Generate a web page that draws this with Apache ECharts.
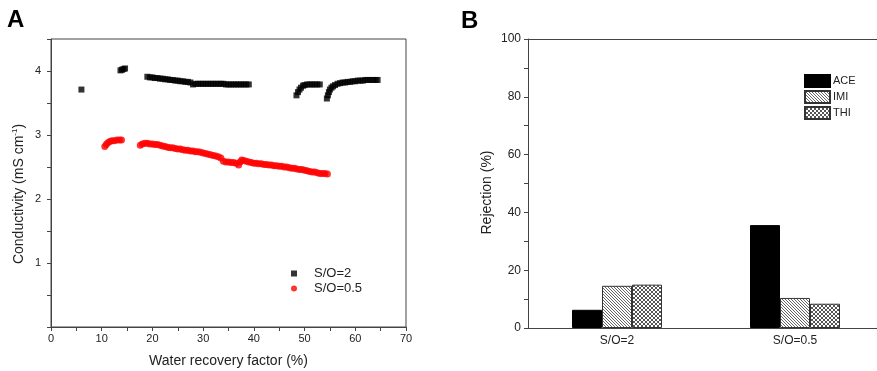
<!DOCTYPE html>
<html>
<head>
<meta charset="utf-8">
<script src="https://cdn.jsdelivr.net/npm/echarts@6/dist/echarts.min.js"></script>
<style>
  html, body { margin: 0; padding: 0; background: #fff; }
  #chart { width: 877px; height: 371px; }
</style>
</head>
<body>
<div id="chart"></div>
<script>
// Panel A: conductivity vs water recovery factor, [x %, mS/cm]
const soTwoPoints = [
  [6.0, 3.71],
  [13.7, 4.01], [14.0, 4.02], [14.3, 4.03], [14.6, 4.04],
  [19.0, 3.91], [19.5, 3.90], [20.0, 3.90], [20.5, 3.89], [21.0, 3.89], [21.5, 3.88],
  [22.0, 3.88], [22.5, 3.87], [23.0, 3.87], [23.5, 3.86], [24.0, 3.86], [24.5, 3.85],
  [25.0, 3.85], [25.5, 3.84], [26.0, 3.84], [26.5, 3.83], [27.0, 3.83], [27.5, 3.82],
  [28.0, 3.79], [28.5, 3.80], [29.0, 3.80], [29.5, 3.80], [30.0, 3.80], [30.5, 3.80],
  [31.0, 3.80], [31.5, 3.80], [32.0, 3.80], [32.5, 3.80], [33.0, 3.80], [33.5, 3.80],
  [34.0, 3.80], [34.5, 3.79], [35.0, 3.79], [35.5, 3.79], [36.0, 3.79], [36.5, 3.79],
  [37.0, 3.79], [37.5, 3.79], [38.0, 3.79], [38.5, 3.79], [39.0, 3.79],
  [48.4, 3.62], [48.7, 3.67], [49.0, 3.71], [49.3, 3.74], [49.7, 3.77], [50.0, 3.78],
  [50.5, 3.79], [51.0, 3.79], [51.5, 3.79], [52.0, 3.79], [52.5, 3.79], [53.0, 3.79],
  [54.4, 3.57], [54.6, 3.62], [54.8, 3.67], [55.0, 3.71], [55.3, 3.74], [55.6, 3.76],
  [56.0, 3.78], [56.5, 3.80], [57.0, 3.81], [57.5, 3.82], [58.0, 3.82], [58.5, 3.83],
  [59.0, 3.83], [59.5, 3.84], [60.0, 3.84], [60.5, 3.85], [61.0, 3.85], [61.5, 3.85],
  [62.0, 3.86], [62.5, 3.86], [63.0, 3.86], [63.5, 3.86], [64.0, 3.86], [64.4, 3.86]
];
const soHalfPoints = [
  [10.6, 2.82], [10.9, 2.85], [11.2, 2.88], [11.6, 2.90], [12.0, 2.91], [12.5, 2.91],
  [13.0, 2.92], [13.5, 2.92], [13.9, 2.92],
  [17.6, 2.84], [18.0, 2.86], [18.5, 2.87], [19.0, 2.87], [19.5, 2.86], [20.0, 2.86],
  [20.5, 2.85], [21.0, 2.85], [21.5, 2.84], [22.0, 2.83], [22.5, 2.82], [23.0, 2.81],
  [23.5, 2.80], [24.0, 2.80], [24.5, 2.79], [25.0, 2.78], [25.5, 2.78], [26.0, 2.77],
  [26.5, 2.76], [27.0, 2.76], [27.5, 2.75], [28.0, 2.75], [28.5, 2.74], [29.0, 2.74],
  [29.5, 2.73], [30.0, 2.72], [30.5, 2.71], [31.0, 2.70], [31.5, 2.69], [32.0, 2.68],
  [32.5, 2.67], [33.0, 2.66], [33.5, 2.64], [34.0, 2.59], [34.5, 2.58], [35.0, 2.58],
  [35.5, 2.57], [36.0, 2.57], [36.5, 2.56], [37.0, 2.53], [37.3, 2.58], [37.6, 2.61],
  [38.0, 2.60], [38.5, 2.59], [39.0, 2.58], [39.5, 2.57], [40.0, 2.56], [40.5, 2.56],
  [41.0, 2.55], [41.5, 2.55], [42.0, 2.54], [42.5, 2.54], [43.0, 2.53], [43.5, 2.53],
  [44.0, 2.52], [44.5, 2.52], [45.0, 2.51], [45.5, 2.51], [46.0, 2.50], [46.5, 2.50],
  [47.0, 2.49], [47.5, 2.48], [48.0, 2.48], [48.5, 2.47], [49.0, 2.46], [49.5, 2.46],
  [50.0, 2.45], [50.5, 2.44], [51.0, 2.43], [51.5, 2.42], [52.0, 2.42], [52.5, 2.41],
  [53.0, 2.40], [53.5, 2.40], [54.0, 2.40], [54.5, 2.39]
];

// Panel B: rejection (%)
const ratioCategories = ["S/O=2", "S/O=0.5"];
const aceValues = [6.3, 35.6];
const imiValues = [14.6, 10.4];
const thiValues = [15.0, 8.4];

// 填充图案
function makePattern(draw, size, ink) {
  const c = document.createElement("canvas");
  c.width = size;
  c.height = size;
  const ctx = c.getContext("2d");
  ctx.fillStyle = "#fff";
  ctx.fillRect(0, 0, size, size);
  ctx.fillStyle = ink;
  draw(ctx, size);
  return { image: c, repeat: "repeat" };
}
const hatchPattern = makePattern((ctx, n) => {
  for (let i = 0; i < n; i++) ctx.fillRect(i, i, 1, 1);
}, 3, "#666");
const crossPattern = makePattern((ctx, n) => {
  for (let i = 0; i < n; i++) {
    ctx.fillRect(i, i, 1, 1);
    ctx.fillRect(i, n - 1 - i, 1, 1);
  }
}, 4, "#555");

const axisColor = "#444";
const textColor = "#222";
const fontFamily = "Liberation Sans, Arial, sans-serif";

const chart = echarts.init(document.getElementById("chart"));

const option = {
  animation: false,
  textStyle: { fontFamily: fontFamily, color: textColor },
  graphic: [
    { type: "text", left: 7, top: 8, style: { text: "A", font: "bold 24px " + fontFamily, fill: "#000" } },
    { type: "text", left: 461, top: 9, style: { text: "B", font: "bold 24px " + fontFamily, fill: "#000" } }
  ],
  legend: [
    {
      orient: "vertical",
      left: 286,
      top: 262,
      itemWidth: 6,
      itemHeight: 6,
      itemGap: 2,
      data: [
        { name: "S/O=2", icon: "rect" },
        { name: "S/O=0.5", icon: "circle" }
      ],
      textStyle: { fontSize: 13, color: textColor, padding: [0, 0, 0, 12] }
    },
    {
      orient: "vertical",
      left: 799,
      top: 69,
      itemWidth: 25,
      itemHeight: 12,
      itemGap: 2,
      icon: "rect",
      data: ["ACE", "IMI", "THI"],
      textStyle: { fontSize: 11, color: textColor, padding: [0, 0, 0, -2] }
    }
  ],
  grid: [
    { left: 51, top: 39, width: 355, height: 288, show: true, borderColor: axisColor, borderWidth: 1, outerBoundsMode: "none" },
    { left: 528, top: 39, width: 356, height: 289, show: false, outerBoundsMode: "none" }
  ],
  xAxis: [
    {
      gridIndex: 0,
      type: "value",
      min: 0,
      max: 70,
      interval: 5,
      name: "Water recovery factor (%)",
      nameLocation: "middle",
      nameGap: 27,
      nameTextStyle: { fontSize: 14, color: textColor },
      axisLine: { lineStyle: { color: axisColor } },
      axisTick: { inside: false, length: 4, lineStyle: { color: axisColor } },
      axisLabel: {
        fontSize: 11,
        color: textColor,
        margin: 6,
        formatter: (v) => (v % 10 === 0 ? v : "")
      },
      splitLine: { show: false }
    },
    {
      gridIndex: 1,
      type: "category",
      data: ratioCategories,
      axisLine: { lineStyle: { color: axisColor } },
      axisTick: { show: false },
      axisLabel: { fontSize: 12, color: textColor, margin: 7 },
      splitLine: { show: false }
    },
    {
      // 顶部边框线
      gridIndex: 1,
      type: "category",
      position: "top",
      data: ratioCategories,
      axisLine: { show: true, lineStyle: { color: axisColor } },
      axisTick: { show: false },
      axisLabel: { show: false },
      splitLine: { show: false }
    }
  ],
  yAxis: [
    {
      gridIndex: 0,
      type: "value",
      min: 0,
      max: 4.5,
      interval: 0.5,
      name: "Conductivity (mS cm{sup|-1})",
      nameLocation: "middle",
      nameGap: 24,
      nameTextStyle: {
        fontSize: 14,
        color: textColor,
        padding: [0, 22, 0, 0],
        rich: { sup: { fontSize: 8, verticalAlign: "top", padding: [0, 0, 8, 0] } }
      },
      axisLine: { show: true, lineStyle: { color: axisColor } },
      axisTick: { show: true, inside: false, length: 4, lineStyle: { color: axisColor } },
      axisLabel: {
        fontSize: 11,
        color: textColor,
        margin: 10,
        formatter: (v) => (v > 0 && Number.isInteger(v) ? v : "")
      },
      splitLine: { show: false }
    },
    {
      gridIndex: 1,
      type: "value",
      min: 0,
      max: 100,
      interval: 10,
      name: "Rejection (%)",
      nameLocation: "middle",
      nameGap: 34,
      nameTextStyle: { fontSize: 14, color: textColor, padding: [0, 18, 0, 0] },
      axisLine: { show: true, lineStyle: { color: axisColor } },
      axisTick: { show: true, inside: false, length: 4, lineStyle: { color: axisColor } },
      axisLabel: {
        fontSize: 12,
        color: textColor,
        margin: 7,
        formatter: (v) => (v % 20 === 0 ? v : "")
      },
      splitLine: { show: false }
    }
  ],
  series: [
    {
      name: "S/O=2",
      type: "scatter",
      xAxisIndex: 0,
      yAxisIndex: 0,
      symbol: "rect",
      symbolSize: 6,
      itemStyle: { color: "#000" },
      data: soTwoPoints
    },
    {
      name: "S/O=0.5",
      type: "scatter",
      xAxisIndex: 0,
      yAxisIndex: 0,
      symbol: "circle",
      symbolSize: 7,
      itemStyle: { color: "#ff0000" },
      data: soHalfPoints
    },
    {
      name: "ACE",
      type: "bar",
      xAxisIndex: 1,
      yAxisIndex: 1,
      barWidth: 30,
      barGap: "0%",
      itemStyle: { color: "#000", borderColor: "#000", borderWidth: 1 },
      data: aceValues
    },
    {
      name: "IMI",
      type: "bar",
      xAxisIndex: 1,
      yAxisIndex: 1,
      barWidth: 30,
      barGap: "0%",
      itemStyle: { color: hatchPattern, borderColor: "#333", borderWidth: 1 },
      data: imiValues
    },
    {
      name: "THI",
      type: "bar",
      xAxisIndex: 1,
      yAxisIndex: 1,
      barWidth: 30,
      barGap: "0%",
      itemStyle: { color: crossPattern, borderColor: "#333", borderWidth: 1 },
      data: thiValues
    }
  ]
};

chart.setOption(option);
</script>
</body>
</html>
